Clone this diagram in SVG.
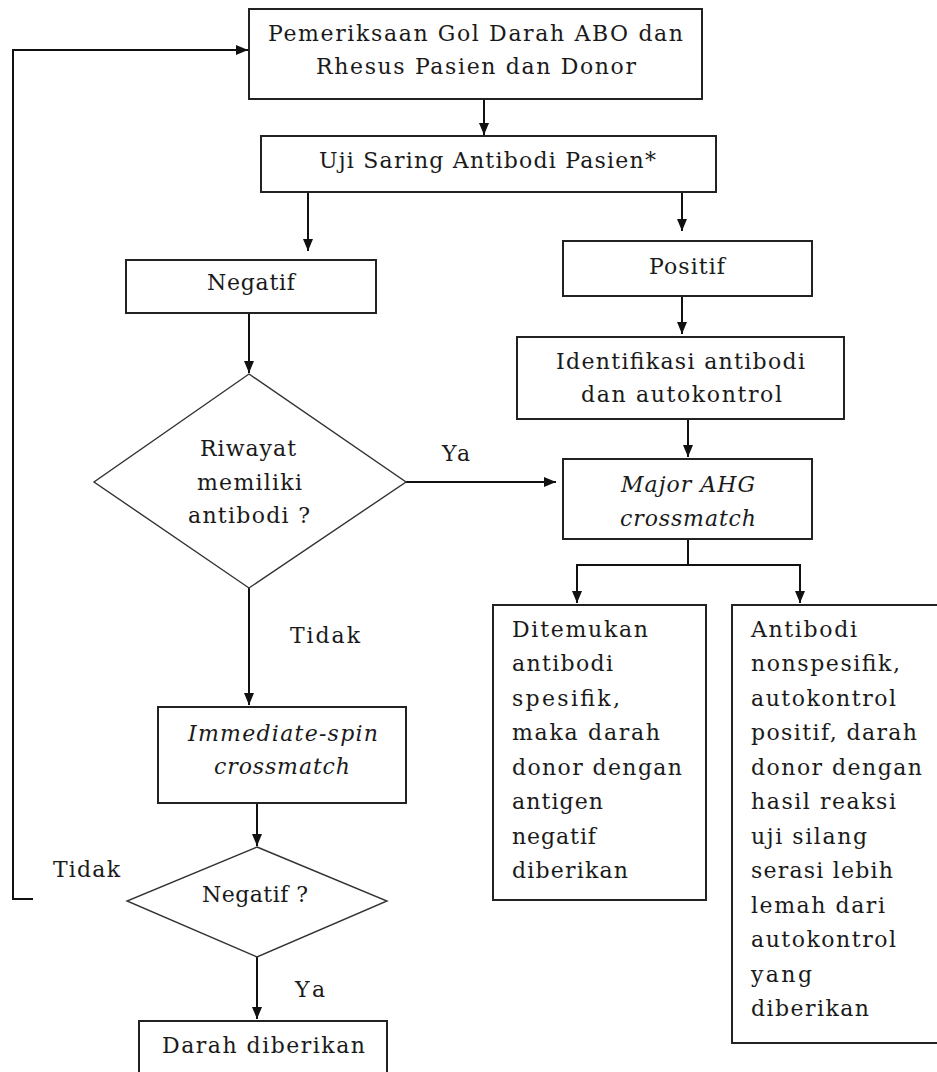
<svg xmlns="http://www.w3.org/2000/svg" width="937" height="1072" viewBox="0 0 937 1072">
<style>
.box{fill:#fff;stroke:#222;stroke-width:2}
.dia{fill:#fff;stroke:#333;stroke-width:1.4}
.con{fill:none;stroke:#111;stroke-width:2}
text{font-family:"DejaVu Serif","Liberation Serif",serif;font-size:22px;fill:#1a1a1a}
.it{font-style:italic}
</style>
<defs>
<marker id="ah" viewBox="0 0 12 12" refX="12" refY="6" markerWidth="12" markerHeight="12" markerUnits="userSpaceOnUse" orient="auto"><path d="M0,1 L12,6 L0,11 z" fill="#111"/></marker>
</defs>
<rect width="937" height="1072" fill="#fff"/>
<g id="connectors">
<path class="con" d="M33,899 H13 V50 H248" marker-end="url(#ah)"/>
<path class="con" d="M484,99 V135" marker-end="url(#ah)"/>
<path class="con" d="M308,192 V251" marker-end="url(#ah)"/>
<path class="con" d="M682,192 V231" marker-end="url(#ah)"/>
<path class="con" d="M682,296 V334" marker-end="url(#ah)"/>
<path class="con" d="M688,419 V457" marker-end="url(#ah)"/>
<path class="con" d="M249,313 V373" marker-end="url(#ah)"/>
<path class="con" d="M406,482 H556" marker-end="url(#ah)"/>
<path class="con" d="M249,588 V705" marker-end="url(#ah)"/>
<path class="con" d="M257,803 V846" marker-end="url(#ah)"/>
<path class="con" d="M257,957 V1019" marker-end="url(#ah)"/>
<path class="con" d="M688,539 V565 M577,565 H800"/>
<path class="con" d="M577,564 V603" marker-end="url(#ah)"/>
<path class="con" d="M800,564 V603" marker-end="url(#ah)"/>
</g>
<g id="labels">
<text x="442" y="461" textLength="28">Ya</text>
<text x="290" y="643" textLength="70">Tidak</text>
<text x="53" y="877" textLength="67">Tidak</text>
<text x="295" y="997" textLength="30">Ya</text>
</g>
<g id="n1">
<rect class="box" x="249" y="9" width="453" height="90"/>
<text x="268" y="41" textLength="415">Pemeriksaan Gol Darah ABO dan</text>
<text x="316" y="74" textLength="320">Rhesus Pasien dan Donor</text>
</g>
<g id="n2">
<rect class="box" x="261" y="136" width="455" height="56"/>
<text x="319" y="168" textLength="337">Uji Saring Antibodi Pasien*</text>
</g>
<g id="n3">
<rect class="box" x="126" y="260" width="250" height="53"/>
<text x="207" y="290" textLength="88">Negatif</text>
</g>
<g id="n4">
<rect class="box" x="563" y="241" width="249" height="55"/>
<text x="649" y="274" textLength="76">Positif</text>
</g>
<g id="n5">
<rect class="box" x="517" y="337" width="327" height="82"/>
<text x="556" y="369" textLength="249">Identifikasi antibodi</text>
<text x="581" y="402" textLength="201">dan autokontrol</text>
</g>
<g id="n6">
<rect class="box" x="563" y="459" width="249" height="80"/>
<text class="it" x="621" y="492" textLength="134">Major AHG</text>
<text class="it" x="620" y="526" textLength="136">crossmatch</text>
</g>
<g id="n7">
<rect class="box" x="493" y="605" width="213" height="295"/>
<text x="512" y="637" textLength="136">Ditemukan</text>
<text x="512" y="671" textLength="101">antibodi</text>
<text x="512" y="706" textLength="108">spesifik,</text>
<text x="512" y="740" textLength="148">maka darah</text>
<text x="512" y="775" textLength="170">donor dengan</text>
<text x="512" y="809" textLength="91">antigen</text>
<text x="512" y="844" textLength="84">negatif</text>
<text x="512" y="878" textLength="116">diberikan</text>
</g>
<g id="n8">
<rect class="box" x="732" y="605" width="215" height="438"/>
<text x="751" y="637" textLength="106">Antibodi</text>
<text x="751" y="671" textLength="149">nonspesifik,</text>
<text x="751" y="706" textLength="145">autokontrol</text>
<text x="751" y="740" textLength="166">positif, darah</text>
<text x="751" y="775" textLength="171">donor dengan</text>
<text x="751" y="809" textLength="145">hasil reaksi</text>
<text x="751" y="844" textLength="116">uji silang</text>
<text x="751" y="878" textLength="142">serasi lebih</text>
<text x="751" y="913" textLength="134">lemah dari</text>
<text x="751" y="947" textLength="145">autokontrol</text>
<text x="751" y="982" textLength="61">yang</text>
<text x="751" y="1016" textLength="118">diberikan</text>
</g>
<g id="n9">
<polygon class="dia" points="249,374 406,482 249,588 94,482"/>
<text x="200" y="456" textLength="96">Riwayat</text>
<text x="197" y="490" textLength="105">memiliki</text>
<text x="188" y="523" textLength="122">antibodi ?</text>
</g>
<g id="n10">
<rect class="box" x="158" y="707" width="248" height="96"/>
<text class="it" x="188" y="741" textLength="190">Immediate-spin</text>
<text class="it" x="214" y="774" textLength="136">crossmatch</text>
</g>
<g id="n11">
<polygon class="dia" points="257,847 387,901 257,957 127,901"/>
<text x="202" y="902" textLength="106">Negatif ?</text>
</g>
<g id="n12">
<rect class="box" x="139" y="1021" width="248" height="60"/>
<text x="162" y="1053" textLength="203">Darah diberikan</text>
</g>
</svg>
